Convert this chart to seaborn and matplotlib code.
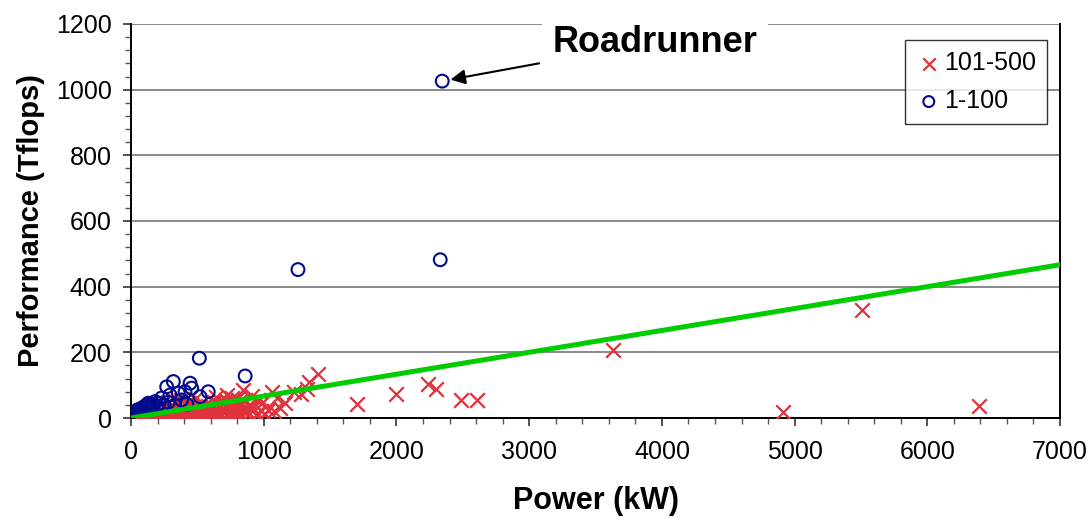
import matplotlib
matplotlib.use('Agg')
import matplotlib.pyplot as plt
from matplotlib.ticker import MultipleLocator
import seaborn as sns
import pandas as pd

# systems ranked 1-100: power (kW) vs performance (Tflops)
top_power = [2345, 1258, 2330, 515, 860, 269, 319, 445, 457, 407, 357, 520, 582, 294,
             231, 181, 130, 68, 30, 10, 20, 40, 50, 60, 80, 90, 100, 110, 120, 140,
             150, 160, 170, 200, 210, 250, 280, 330, 380, 420, 15, 35, 55, 75]
top_perf = [1026, 452, 482, 182, 128, 95, 111, 106, 91, 80, 76, 65, 80, 70,
            61, 50, 45, 24, 15, 10, 12, 20, 25, 18, 30, 22, 35, 28, 40, 32,
            38, 30, 42, 36, 45, 40, 48, 38, 55, 42, 5, 8, 14, 10]

# systems ranked 101-500
rest_power = [5510, 3630, 4910, 6390, 1700, 1995, 2235, 2295, 2490, 2605, 1410, 1340,
              1325, 1280, 1225, 1060, 995, 1125, 1035, 1160, 845, 785, 870, 750, 650,
              820, 880, 900, 800,
              100, 110, 120, 130, 140, 150, 160, 170, 180, 190, 200, 210, 220, 230,
              240, 250, 260, 270, 280, 290, 300, 310, 320, 330, 340, 350, 360, 370,
              380, 390, 400, 410, 420, 430, 440, 450, 460, 470, 480, 490, 500, 510,
              520, 535, 550, 565, 580, 595, 610, 625, 640, 655, 670, 685, 700, 715,
              730, 745, 760, 775, 790, 810, 830, 850, 890, 920, 950, 980,
              150, 200, 250, 300, 350, 400, 450, 500, 550, 600, 650, 700, 750, 180,
              230, 280, 330, 380, 430, 480, 60, 70, 80, 90,
              420, 460, 500, 540, 580, 620, 660, 700, 740, 780, 820, 860, 940, 1010,
              1080, 1100, 560, 610, 690, 760, 640, 720, 800, 840, 910, 960]
rest_perf = [328, 207, 18, 36, 44, 74, 104, 87, 56, 56, 135, 110,
             88, 74, 78, 80, 50, 30, 24, 45, 85, 24, 24, 46, 46,
             15, 10, 35, 30,
             8, 14, 5, 20, 10, 3, 16, 25, 7, 12, 30, 4, 18, 9,
             22, 14, 6, 28, 11, 17, 35, 5, 24, 13, 8, 19, 40, 10,
             27, 15, 6, 21, 33, 12, 18, 9, 26, 14, 38, 7, 20, 30,
             12, 45, 16, 25, 8, 34, 18, 50, 22, 12, 40, 28, 16, 55,
             30, 20, 62, 38, 14, 50, 26, 18, 40, 30, 12, 22,
             12, 10, 3, 15, 4, 25, 30, 5, 38, 10, 6, 45, 8, 35,
             42, 48, 52, 55, 46, 58, 5, 10, 3, 15,
             3, 6, 10, 4, 14, 5, 9, 3, 12, 6, 4, 16, 8, 12,
             20, 60, 28, 36, 22, 48, 65, 70, 58, 44, 66, 55]

# linear trend line
trend_x = [0, 7000]
trend_y = [0, 466.7]

RED = '#e0323c'
BLUE = '#000a8c'
GREEN = '#00cc00'


def main():
    sns.set_style('white')
    plt.rcParams['font.family'] = ['Liberation Sans', 'DejaVu Sans']
    for key in ['text.color', 'axes.labelcolor', 'xtick.color', 'ytick.color']:
        plt.rcParams[key] = 'black'

    fig = plt.figure(figsize=(10.89, 5.19), dpi=100)
    ax = fig.add_axes([0.1203, 0.1946, 0.8531, 0.7592])

    rest = pd.DataFrame({'power': rest_power, 'perf': rest_perf})
    top = pd.DataFrame({'power': top_power, 'perf': top_perf})

    sns.scatterplot(data=rest, x='power', y='perf', marker='x', color=RED,
                    s=110, linewidth=1.6, label='101-500', ax=ax, zorder=3)
    sns.scatterplot(data=top, x='power', y='perf', marker='o', color=BLUE,
                    s=85, linewidth=1.5, label='1-100', ax=ax, zorder=4)
    circles = ax.collections[-1]
    circles.set_facecolor('none')
    circles.set_edgecolor(BLUE)

    sns.lineplot(x=trend_x, y=trend_y, color=GREEN, linewidth=3.6, ax=ax,
                 zorder=5, legend=False)

    ax.set_xlim(0, 7000)
    ax.set_ylim(0, 1200)
    ax.xaxis.set_major_locator(MultipleLocator(1000))
    ax.xaxis.set_minor_locator(MultipleLocator(200))
    ax.yaxis.set_major_locator(MultipleLocator(200))
    ax.yaxis.set_minor_locator(MultipleLocator(40))
    ax.tick_params(which='major', direction='out', length=6, width=1.2,
                   labelsize=18, bottom=True, left=True, color='#333333')
    ax.tick_params(which='minor', direction='out', length=4, width=1.0,
                   bottom=True, left=True, color='#555555')
    ax.tick_params(axis='x', pad=10)
    ax.tick_params(axis='y', pad=8)

    ax.grid(axis='y', which='major', color='#808080', linewidth=1.3)
    ax.set_axisbelow(True)
    ax.spines['top'].set_visible(False)
    for side in ['left', 'bottom', 'right']:
        ax.spines[side].set_color('black')
        ax.spines[side].set_linewidth(1.4)

    ax.set_xlabel('Power (kW)', fontsize=22, fontweight='bold', labelpad=16)
    ax.set_ylabel('Performance (Tflops)', fontsize=21, fontweight='bold', labelpad=8)

    leg = ax.legend(loc='upper right', bbox_to_anchor=(0.986, 0.959), fontsize=18,
                    frameon=True, fancybox=False, edgecolor='black',
                    handletextpad=0.1, handlelength=1.0, borderpad=0.45,
                    labelspacing=0.55, borderaxespad=0, markerscale=0.85)
    leg.get_frame().set_linewidth(1.0)
    leg.set_zorder(10)

    ax.annotate('Roadrunner', xy=(2345, 1026), xytext=(3949, 1145),
                fontsize=26, fontweight='bold', ha='center', va='center',
                bbox=dict(boxstyle='square,pad=0.3', fc='white', ec='none'),
                arrowprops=dict(arrowstyle='-|>', color='black', lw=1.5,
                                mutation_scale=22, shrinkB=6),
                annotation_clip=False, zorder=10)

    fig.savefig('out.png', dpi=100)


if __name__ == "__main__":
    main()
